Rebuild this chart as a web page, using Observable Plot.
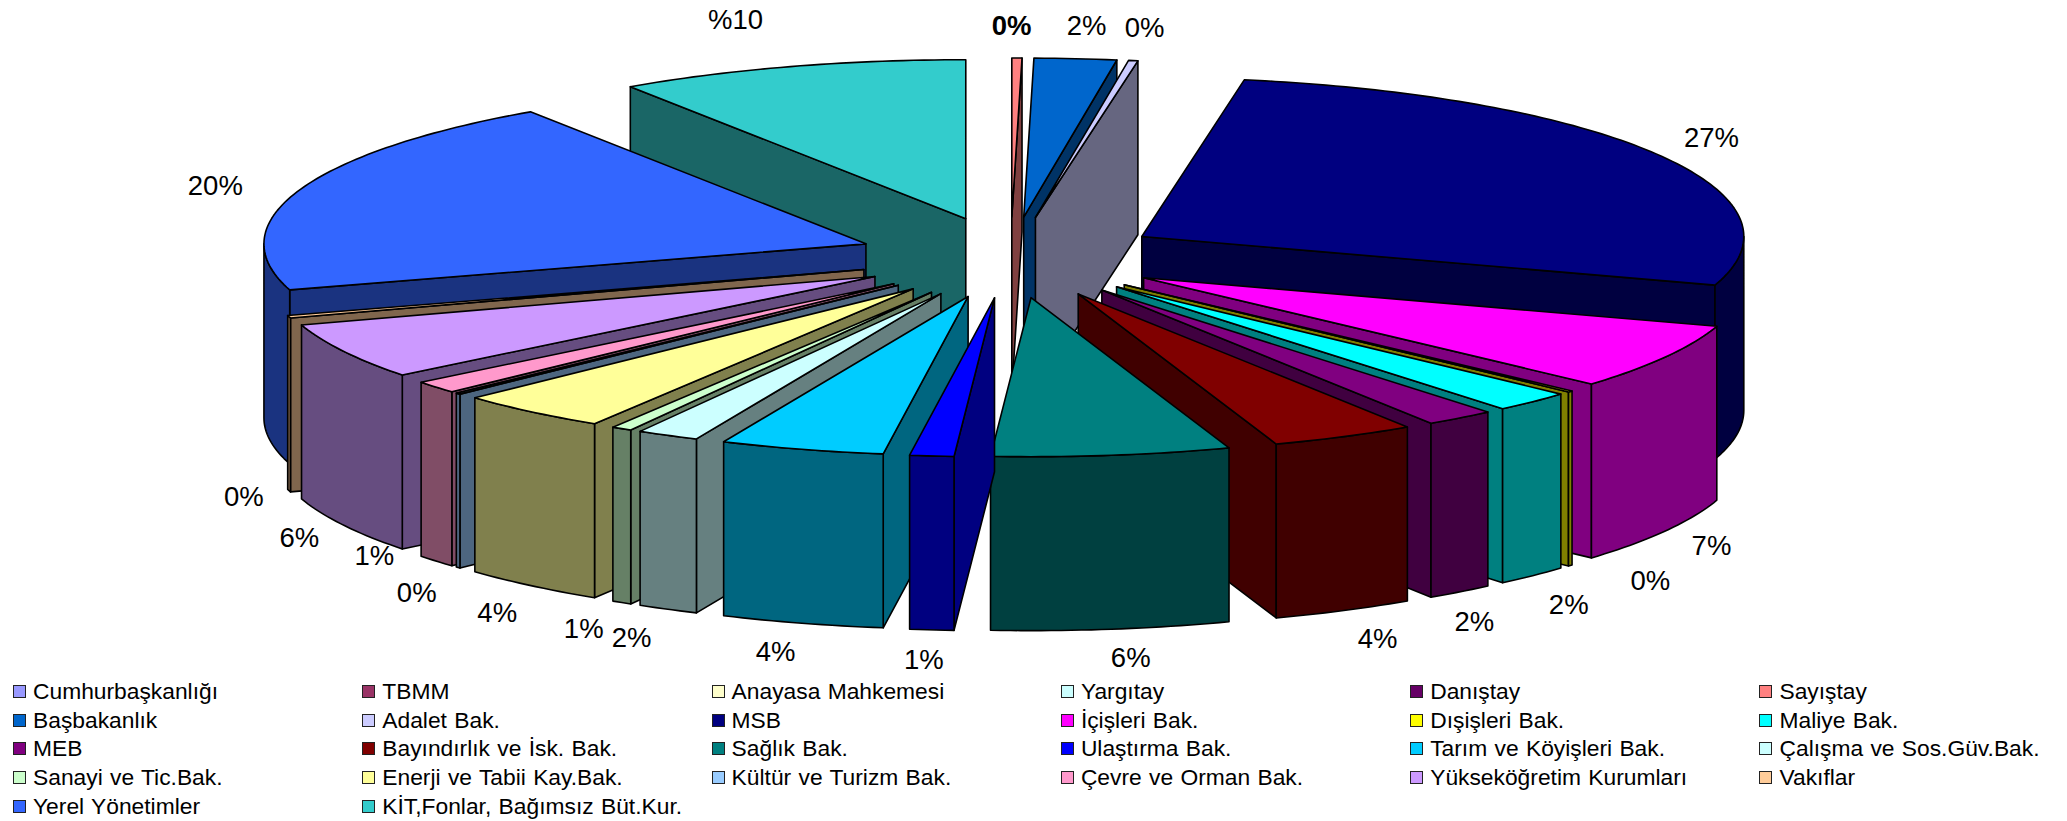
<!doctype html>
<html lang="tr"><head><meta charset="utf-8">
<script src="https://cdn.jsdelivr.net/npm/d3@7"></script>
<script src="https://cdn.jsdelivr.net/npm/@observablehq/plot@0.6"></script>
<style>
html,body{margin:0;padding:0;background:#fff;overflow:hidden}
#chart svg{display:block}
#legend{display:grid;grid-template-columns:repeat(6,349.3px);grid-auto-rows:28.7px;padding:2px 0 0 13px;font:22.8px "Liberation Sans",Arial,sans-serif;word-spacing:1px;color:#000}
#legend div{display:flex;align-items:center;white-space:pre}
#legend i{display:inline-block;box-sizing:border-box;width:13px;height:13px;border:1.5px solid #222;margin-right:7px;flex:none}
</style></head><body>
<div id="chart"></div><div id="legend"></div>
<script>
const categories = ["Cumhurbaşkanlığı","TBMM","Anayasa Mahkemesi","Yargıtay","Danıştay","Sayıştay","Başbakanlık","Adalet Bak.","MSB","İçişleri Bak.","Dışişleri Bak.","Maliye Bak.","MEB","Bayındırlık ve İsk. Bak.","Sağlık Bak.","Ulaştırma Bak.","Tarım ve Köyişleri Bak.","Çalışma ve Sos.Güv.Bak.","Sanayi ve Tic.Bak.","Enerji ve Tabii Kay.Bak.","Kültür ve Turizm Bak.","Çevre ve Orman Bak.","Yükseköğretim Kurumları","Vakıflar","Yerel Yönetimler","KİT,Fonlar, Bağımsız Büt.Kur."];
const shares = [0,0,0,0,0,0.27,2.2,0.25,27.2,6.7,0.14,2.13,1.87,3.87,6.4,1.18,4.4,1.67,0.55,4.1,0.14,1.25,5.7,0.25,20.25,9.4];
const colors = ["#9999ff","#993366","#ffffcc","#ccffff","#660066","#ff8080","#0066cc","#ccccff","#000080","#ff00ff","#ffff00","#00ffff","#800080","#800000","#008080","#0000ff","#00ccff","#ccffff","#ccffcc","#ffff99","#99ccff","#ff99cc","#cc99ff","#ffcc99","#3366ff","#33cccc"];
const percentLabels = [null,null,null,null,null,"0%","2%","0%","27%","7%","0%","2%","2%","4%","6%","1%","4%","2%","1%","4%","0%","1%","6%","0%","20%","%10"];
// label anchors, in pie radii (x) and tilted pie radii (y)
const labelX = [0,0,0,0,0,.0017,.1263,.2228,1.1644,1.1644,1.0630,.9273,.7705,.6097,.1997,-.1440,-.3903,-.6295,-.7089,-.8526,-.9863,-1.0566,-1.1812,-1.2736,-1.3209,-.4566];
const labelY = [0,0,0,0,0,1.453,1.453,1.440,.748,-1.818,-2.038,-2.189,-2.296,-2.403,-2.522,-2.535,-2.484,-2.396,-2.340,-2.239,-2.113,-1.881,-1.767,-1.509,.447,1.491];
const explode = 0.255, depth = 1.094;
const W = 2067, H = 675, cx = 1010, cy = 257, Rx = 602, Ry = 159;

const total = d3.sum(shares);
const half = c => { const r = d3.rgb(c); return d3.rgb(r.r/2, r.g/2, r.b/2).formatHex(); };
let cum = 0;
const slices = shares.map((v,i) => {
  const a0 = cum/total*2*Math.PI; cum += v; const a1 = cum/total*2*Math.PI;
  const m = (a0+a1)/2;
  return {i, v, a0, a1, m, ax: explode*Math.sin(m), ay: explode*Math.cos(m), color: colors[i], dark: half(colors[i])};
}).filter(s => s.v > 0);

const faces = [];
function add(id, color, pts){ pts.forEach(p => faces.push({face:id, color, x:p[0], y:p[1]})); }
function arc(s, t0, t1, dy=0){
  const n = Math.max(2, Math.ceil((t1-t0)/(Math.PI/180))), out = [];
  for (let k=0;k<=n;k++){ const t = t0+(t1-t0)*k/n; out.push([s.ax+Math.sin(t), s.ay+Math.cos(t)+dy]); }
  return out;
}
[...slices].sort((p,q) => Math.cos(q.m)-Math.cos(p.m)).forEach(s => {
  const apex = [s.ax, s.ay], low = [s.ax, s.ay-depth];
  const rim = t => [s.ax+Math.sin(t), s.ay+Math.cos(t)];
  const below = p => [p[0], p[1]-depth];
  if (Math.sin(s.a0) < 0) add(s.i+"start", s.dark, [apex, rim(s.a0), below(rim(s.a0)), low]);
  if (Math.sin(s.a1) > 0) add(s.i+"end", s.dark, [apex, rim(s.a1), below(rim(s.a1)), low]);
  const w0 = Math.max(s.a0, Math.PI/2), w1 = Math.min(s.a1, 3*Math.PI/2);
  if (w1 > w0) add(s.i+"wall", s.dark, [...arc(s,w0,w1), ...arc(s,w0,w1,-depth).reverse()]);
  add(s.i+"top", s.color, [apex, ...arc(s,s.a0,s.a1)]);
});

const labels = percentLabels.map((t,i) => ({t, x:labelX[i], y:labelY[i], bold: categories[i]==="Sayıştay"})).filter(d => d.t);
const font = {fontFamily:'"Liberation Sans",Arial,sans-serif', fontSize:27.5, fill:"#000", textAnchor:"middle"};

document.getElementById("chart").append(Plot.plot({
  width: W, height: H, margin: 0, axis: null,
  style: {background:"#fff"},
  color: {type:"identity"},
  x: {domain:[-cx/Rx,(W-cx)/Rx], range:[0,W]},
  y: {domain:[(cy-H)/Ry,cy/Ry], range:[H,0]},
  marks: [
    Plot.line(faces, {x:"x", y:"y", z:"face", fill:"color", stroke:"#000", strokeWidth:1.6, strokeLinejoin:"round", curve:"linear-closed"}),
    Plot.text(labels.filter(d=>!d.bold), {x:"x", y:"y", text:"t", ...font}),
    Plot.text(labels.filter(d=>d.bold), {x:"x", y:"y", text:"t", fontWeight:"bold", ...font})
  ]
}));

const lg = document.getElementById("legend");
categories.forEach((c,i) => {
  const d = document.createElement("div");
  const sw = document.createElement("i"); sw.style.background = colors[i];
  d.append(sw, document.createTextNode(c)); lg.append(d);
});
</script></body></html>
